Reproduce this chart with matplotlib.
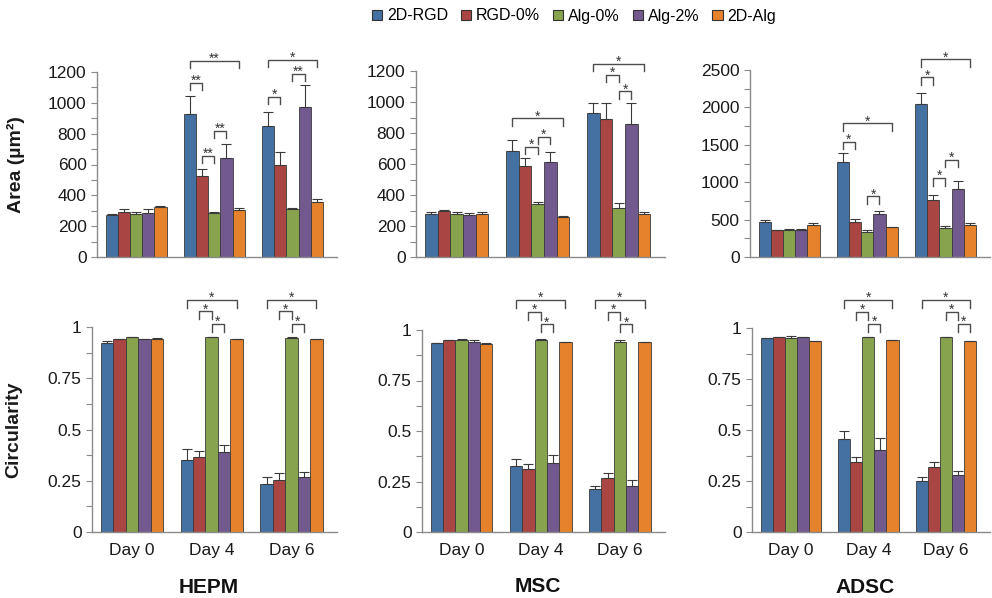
import matplotlib
matplotlib.use("Agg")
import numpy as np
import matplotlib.pyplot as plt
import matplotlib.patches as mpatches
from matplotlib.ticker import MultipleLocator

plt.rcParams['font.family'] = ['Liberation Sans', 'DejaVu Sans']

# Groups / labels
series = ["2D-RGD", "RGD-0%", "Alg-0%", "Alg-2%", "2D-Alg"]
colours = ["#4470A2", "#A94643", "#87A34E", "#725A8F", "#E6812C"]
days = ["Day 0", "Day 4", "Day 6"]
cells = ["HEPM", "MSC", "ADSC"]

# Area (um^2): rows = day, cols = series
hepm_area = [[270, 295, 278, 288, 322],
             [925, 525, 283, 640, 303],
             [848, 600, 312, 975, 355]]
hepm_area_err = [[12, 15, 12, 22, 12],
                 [120, 45, 10, 95, 18],
                 [95, 82, 5, 140, 20]]
msc_area = [[278, 300, 275, 270, 275],
            [684, 587, 343, 611, 261],
            [932, 891, 319, 861, 279]]
msc_area_err = [[15, 5, 18, 15, 18],
                [70, 54, 15, 69, 3],
                [64, 105, 28, 135, 10]]
adsc_area = [[465, 355, 365, 360, 430],
             [1275, 465, 340, 575, 395],
             [2045, 765, 385, 910, 430]]
adsc_area_err = [[30, 8, 12, 12, 25],
                 [110, 45, 20, 45, 8],
                 [150, 60, 25, 100, 25]]

# Circularity
hepm_circ = [[0.92, 0.94, 0.95, 0.94, 0.94],
             [0.35, 0.365, 0.95, 0.39, 0.94],
             [0.235, 0.255, 0.948, 0.27, 0.94]]
hepm_circ_err = [[0.01, 0.003, 0.002, 0.003, 0.008],
                 [0.055, 0.03, 0.002, 0.035, 0.002],
                 [0.035, 0.035, 0.003, 0.025, 0.003]]
msc_circ = [[0.935, 0.95, 0.952, 0.94, 0.932],
            [0.325, 0.31, 0.952, 0.34, 0.94],
            [0.215, 0.265, 0.94, 0.228, 0.94]]
msc_circ_err = [[0.003, 0.002, 0.003, 0.01, 0.003],
                [0.035, 0.025, 0.003, 0.04, 0.002],
                [0.012, 0.025, 0.01, 0.028, 0.003]]
adsc_circ = [[0.95, 0.955, 0.952, 0.955, 0.935],
             [0.455, 0.345, 0.955, 0.40, 0.94],
             [0.25, 0.32, 0.955, 0.28, 0.935]]
adsc_circ_err = [[0.003, 0.002, 0.01, 0.003, 0.003],
                 [0.04, 0.025, 0.003, 0.06, 0.002],
                 [0.018, 0.022, 0.002, 0.02, 0.003]]

# Significance brackets: (day, bar a, bar b, top y, stars)
hepm_area_sig = [(1, 0, 4, 1272, "**"), (1, 0, 1, 1129, "**"), (1, 1, 2, 657, "**"),
                 (1, 2, 3, 820, "**"), (2, 0, 4, 1280, "*"), (2, 0, 1, 1040, "*"),
                 (2, 2, 3, 1190, "**")]
msc_area_sig = [(1, 0, 4, 894, "*"), (1, 1, 2, 711, "*"), (1, 2, 3, 776, "*"),
                (2, 0, 4, 1247, "*"), (2, 1, 2, 1177, "*"), (2, 2, 3, 1069, "*")]
adsc_area_sig = [(1, 0, 4, 1788, "*"), (1, 0, 1, 1543, "*"), (1, 2, 3, 810, "*"),
                 (2, 0, 4, 2642, "*"), (2, 0, 1, 2402, "*"), (2, 1, 2, 1054, "*"),
                 (2, 2, 3, 1299, "*")]
hepm_circ_sig = [(1, 0, 4, 1.134, "*"), (1, 1, 2, 1.077, "*"), (1, 2, 3, 1.016, "*"),
                 (2, 0, 4, 1.134, "*"), (2, 1, 2, 1.077, "*"), (2, 2, 3, 1.016, "*")]
msc_circ_sig = [(1, 0, 4, 1.149, "*"), (1, 1, 2, 1.091, "*"), (1, 2, 3, 1.028, "*"),
                (2, 0, 4, 1.149, "*"), (2, 1, 2, 1.091, "*"), (2, 2, 3, 1.028, "*")]
adsc_circ_sig = [(1, 0, 4, 1.139, "*"), (1, 1, 2, 1.079, "*"), (1, 2, 3, 1.02, "*"),
                 (2, 0, 4, 1.139, "*"), (2, 2, 3, 1.079, "*"), (2, 3, 4, 1.02, "*")]


W, H = 992, 598
def rect(x0, x1, y_bottom, y_top):
    return [x0 / W, (H - y_bottom) / H, (x1 - x0) / W, (y_bottom - y_top) / H]

panels = [
    (rect(97, 337, 257, 72), hepm_area, hepm_area_err, hepm_area_sig, 1200, 200, 100),
    (rect(416, 665, 257, 71), msc_area, msc_area_err, msc_area_sig, 1200, 200, 100),
    (rect(750, 990, 257, 70), adsc_area, adsc_area_err, adsc_area_sig, 2500, 500, 250),
    (rect(92, 337, 532, 327), hepm_circ, hepm_circ_err, hepm_circ_sig, 1, 0.25, 0.125),
    (rect(422, 665, 532, 330), msc_circ, msc_circ_err, msc_circ_sig, 1, 0.25, 0.125),
    (rect(752, 990, 532, 328), adsc_circ, adsc_circ_err, adsc_circ_sig, 1, 0.25, 0.125),
]

fig = plt.figure(figsize=(W / 100, H / 100), dpi=100)

bw = 0.156
offsets = (np.arange(5) - 2) * bw
x = np.arange(len(days))
spine_col = "#8a8a8a"
line_col = "#4d4d4d"

for k, (r, vals, errs, sig, ymax, major, minor) in enumerate(panels):
    ax = fig.add_axes(r)
    vals = np.array(vals)
    errs = np.array(errs)
    for s in range(5):
        ax.bar(x + offsets[s], vals[:, s], width=bw, color=colours[s],
               edgecolor="#3a3a3a", linewidth=0.6, zorder=2)
        ax.errorbar(x + offsets[s], vals[:, s],
                    yerr=[np.zeros(len(days)), errs[:, s]],
                    fmt="none", ecolor="#3a3a3a", elinewidth=0.8,
                    capsize=3.8, capthick=0.8, zorder=3)

    # brackets
    drop = 0.04 * ymax
    for d, a, b, ytop, stars in sig:
        xa = x[d] + offsets[a]
        xb = x[d] + offsets[b]
        ax.plot([xa, xa, xb, xb], [ytop - drop, ytop, ytop, ytop - drop],
                color=line_col, lw=1.0, clip_on=False, zorder=4)
        ax.annotate(stars, xy=((xa + xb) / 2, ytop), xytext=(0, -1.5),
                    textcoords="offset points", ha="center", va="baseline",
                    fontsize=10, color="#333333", annotation_clip=False)

    ax.set_xlim(-0.5, 2.57)
    ax.set_ylim(0, ymax)
    ax.yaxis.set_major_locator(MultipleLocator(major))
    ax.yaxis.set_minor_locator(MultipleLocator(minor))
    for side in ["top", "right"]:
        ax.spines[side].set_visible(False)
    for side in ["left", "bottom"]:
        ax.spines[side].set_color(spine_col)
        ax.spines[side].set_linewidth(1.0)
    ax.tick_params(axis="y", which="both", length=4, width=0.8, color=spine_col,
                   labelsize=12.5, labelcolor="#1a1a1a", pad=3.5)
    ax.tick_params(axis="x", length=0, labelsize=12.5, labelcolor="#1a1a1a", pad=8)
    if ymax == 1:
        ax.set_yticks([0, 0.25, 0.5, 0.75, 1])
        ax.set_yticklabels(["0", "0.25", "0.5", "0.75", "1"])
    ax.set_xticks(x)
    if k < 3:
        ax.set_xticklabels([])
    else:
        ax.set_xticklabels(days)
        ax.text(0.96, -0.27, cells[k - 3], transform=ax.get_xaxis_transform(),
                ha="center", va="center", fontsize=15, fontweight="bold",
                color="#111111")
    if k == 0:
        ax.set_ylabel("Area (µm²)", fontsize=14, fontweight="bold", color="#1a1a1a")
        ax.yaxis.set_label_coords(-0.30, 0.5)
    if k == 3:
        ax.set_ylabel("Circularity", fontsize=14, fontweight="bold", color="#1a1a1a")
        ax.yaxis.set_label_coords(-0.285, 0.5)

handles = [mpatches.Patch(facecolor=c, edgecolor="#333333", linewidth=0.8, label=s)
           for c, s in zip(colours, series)]
fig.legend(handles=handles, loc="center", bbox_to_anchor=(574 / W, 1 - 16 / H),
           ncol=5, frameon=False, fontsize=11.5, handlelength=0.65, handleheight=0.65,
           handletextpad=0.3, columnspacing=0.8, borderaxespad=0)

fig.savefig("out.png", dpi=100)
